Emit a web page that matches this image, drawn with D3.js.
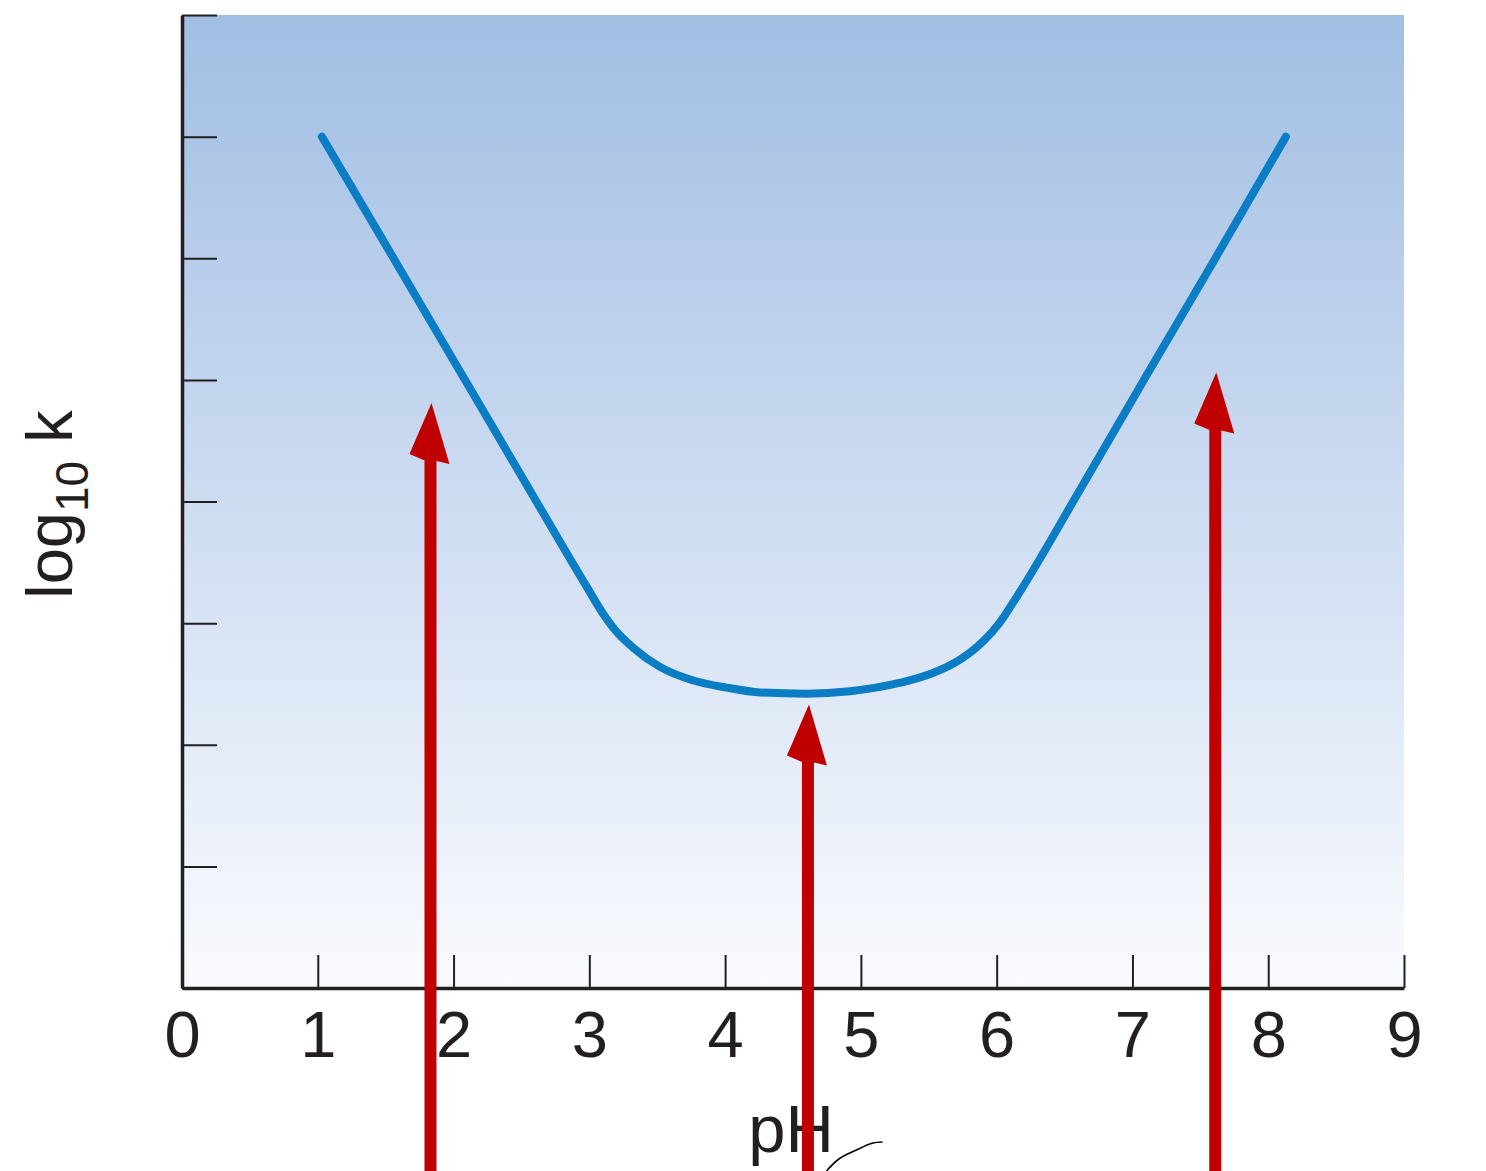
<!DOCTYPE html>
<html>
<head>
<meta charset="utf-8">
<script src="https://cdn.jsdelivr.net/npm/d3@7"></script>
<style>
  body { margin: 0; background: #fff; }
  svg { display: block; font-family: "Liberation Sans", Arial, sans-serif; }
</style>
</head>
<body>
<div id="chart"></div>
<script>
// pH-rate profile, values
const curvePH   = [1.03, 1.50, 2.00, 2.50, 2.98, 3.10, 3.20, 3.32, 3.52, 3.76, 4.01, 4.26, 4.60, 4.92, 5.29, 5.53, 5.73, 5.90, 6.02, 6.15, 6.60, 7.10, 7.60, 8.13];
const curveLogK = [7.00, 6.11, 5.16, 4.21, 3.30, 3.08, 2.93, 2.80, 2.64, 2.53, 2.47, 2.43, 2.42, 2.44, 2.51, 2.59, 2.70, 2.85, 3.00, 3.22, 4.07, 5.03, 5.98, 7.00];

const xTicks = [0, 1, 2, 3, 4, 5, 6, 7, 8, 9];
const yTicks = [0, 1, 2, 3, 4, 5, 6, 7, 8];

// red annotation arrows: pH position and the level of the arrow tip
const arrowPH   = [1.83, 4.61, 7.61];
const arrowTipK = [4.81, 2.33, 5.06];

// hand-drawn stroke under the axis title
const squigglePH = [4.75, 4.845, 4.97, 5.088, 5.155];
const squiggleK  = [-1.50, -1.40, -1.33, -1.275, -1.266];

const width = 1486;
const height = 1171;

const svg = d3.select("#chart")
    .append("svg")
    .attr("width", width)
    .attr("height", height);

const x = d3.scaleLinear().domain([0, 9]).range([182, 1404]);
const y = d3.scaleLinear().domain([0, 8]).range([988, 15]);

// background gradient
const grad = svg.append("defs")
    .append("linearGradient")
    .attr("id", "bg")
    .attr("x1", "0%").attr("y1", "0%")
    .attr("x2", "0%").attr("y2", "100%");
grad.append("stop").attr("offset", "0%").attr("stop-color", "#a1bee3");
grad.append("stop").attr("offset", "50%").attr("stop-color", "#cddcf1");
grad.append("stop").attr("offset", "100%").attr("stop-color", "#fafbfe");

svg.append("rect")
    .attr("x", x(0))
    .attr("y", y(8))
    .attr("width", x(9) - x(0))
    .attr("height", y(0) - y(8))
    .attr("fill", "url(#bg)");

// x axis, ticks pointing up into the plot
const xAxis = svg.append("g")
    .attr("transform", `translate(0,${y(0)})`)
    .call(d3.axisBottom(x)
        .tickValues(xTicks)
        .tickFormat(d3.format("d"))
        .tickSizeInner(-33)
        .tickSizeOuter(0)
        .tickPadding(23));

// y axis, no labels
const yAxis = svg.append("g")
    .attr("transform", `translate(${x(0)},0)`)
    .call(d3.axisLeft(y)
        .tickValues(yTicks)
        .tickFormat("")
        .tickSizeInner(-35)
        .tickSizeOuter(0));

[xAxis, yAxis].forEach(a => {
    a.select(".domain").attr("stroke", "#231f20").attr("stroke-width", 3.5);
    a.selectAll(".tick line").attr("stroke", "#231f20").attr("stroke-width", 2);
});

xAxis.selectAll(".tick text")
    .attr("fill", "#231f20")
    .style("font-size", "65px")
    .style("font-family", "Liberation Sans, Arial, sans-serif");

// axis titles
svg.append("text")
    .attr("x", x(4.5) - 2)
    .attr("y", 1152)
    .attr("text-anchor", "middle")
    .attr("fill", "#231f20")
    .style("font-size", "67px")
    .text("pH");

const yTitle = svg.append("text")
    .attr("transform", `translate(72,${y(4) + 3}) rotate(-90)`)
    .attr("text-anchor", "middle")
    .attr("fill", "#231f20")
    .style("font-size", "65px");
yTitle.append("tspan").text("log");
yTitle.append("tspan").attr("dy", 16).style("font-size", "46px").text("10");
yTitle.append("tspan").attr("dy", -16).text(" k");

// the profile curve
const line = d3.line()
    .x((d, i) => x(curvePH[i]))
    .y(d => y(d))
    .curve(d3.curveMonotoneX);

svg.append("path")
    .datum(curveLogK)
    .attr("d", line)
    .attr("fill", "none")
    .attr("stroke", "#0b7dc4")
    .attr("stroke-width", 8)
    .attr("stroke-linecap", "round");

// arrows
const arrows = svg.append("g").attr("fill", "#c00000").attr("stroke", "#c00000");

arrowPH.forEach((p, i) => {
    const tx = x(p);
    const ty = y(arrowTipK[i]);
    arrows.append("line")
        .attr("x1", tx).attr("x2", tx)
        .attr("y1", ty + 45).attr("y2", height + 5)
        .attr("stroke-width", 12);
    arrows.append("path")
        .attr("stroke", "none")
        .attr("d", `M${tx + 1},${ty} L${tx - 21},${ty + 51} L${tx - 7},${ty + 57} L${tx + 6},${ty + 58} L${tx + 19},${ty + 61} Z`);
});

// hand-drawn mark
svg.append("path")
    .datum(squiggleK)
    .attr("d", d3.line()
        .x((d, i) => x(squigglePH[i]))
        .y(d => y(d))
        .curve(d3.curveCatmullRom))
    .attr("fill", "none")
    .attr("stroke", "#000")
    .attr("stroke-width", 1.6)
    .attr("stroke-linecap", "round");
</script>
</body>
</html>
